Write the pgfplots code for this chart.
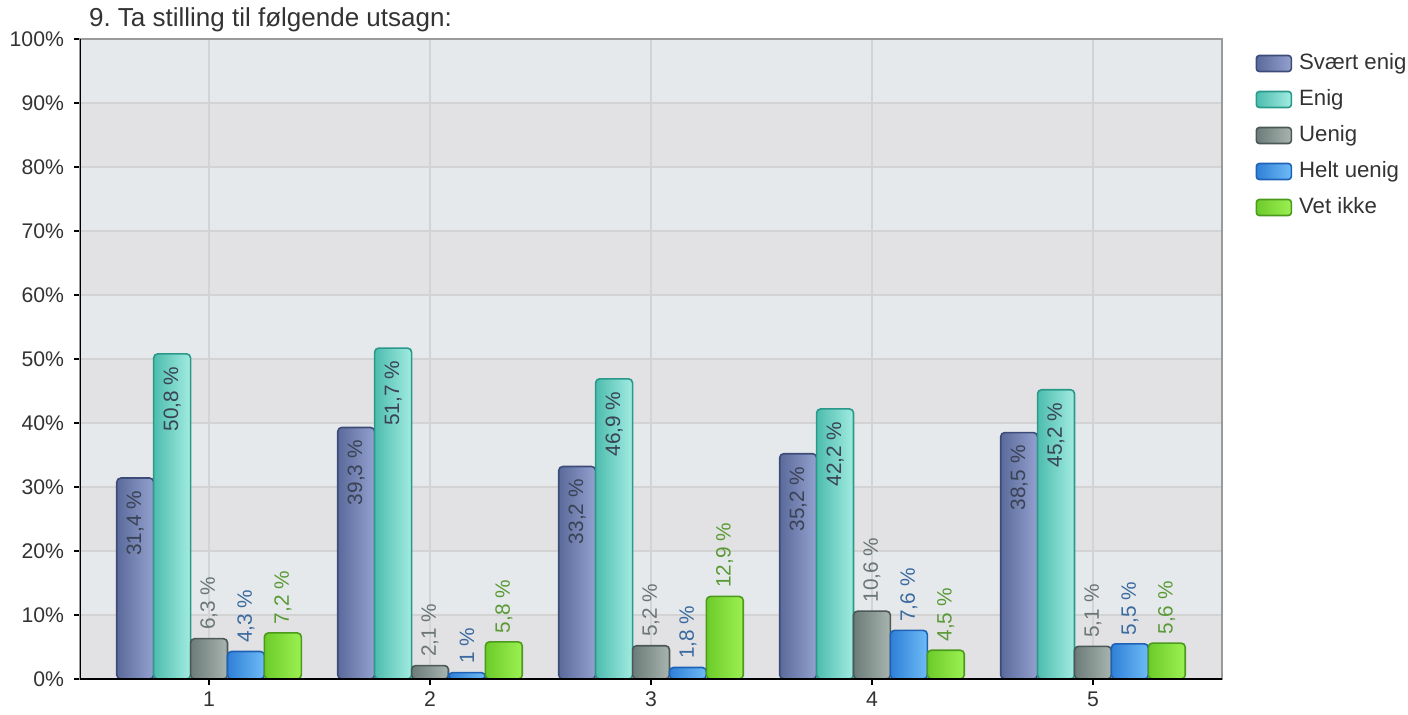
\documentclass[border=0pt]{standalone}
\usepackage{fontspec}
\setmainfont{Liberation Sans}
\usepackage{pgfplots}
\pgfplotsset{compat=1.18}

\definecolor{bandA}{HTML}{E6E9EC}
\definecolor{bandB}{HTML}{E2E2E4}
\definecolor{gridc}{HTML}{D3D3D3}
\definecolor{frame}{HTML}{9A9A9A}
\definecolor{txt}{HTML}{333333}
% bar colours: border, dark side, light side
\definecolor{seB}{HTML}{3D4B78}\definecolor{seL}{HTML}{5A6A9A}\definecolor{seR}{HTML}{93A1CF}
\definecolor{enB}{HTML}{2A998A}\definecolor{enL}{HTML}{4DBDAE}\definecolor{enR}{HTML}{A2EBE1}
\definecolor{ueB}{HTML}{4B5855}\definecolor{ueL}{HTML}{6C7C78}\definecolor{ueR}{HTML}{A8B4B0}
\definecolor{huB}{HTML}{1F62B5}\definecolor{huL}{HTML}{2F80D8}\definecolor{huR}{HTML}{6EBBF6}
\definecolor{viB}{HTML}{4C9A1C}\definecolor{viL}{HTML}{6CCB2A}\definecolor{viR}{HTML}{9CF052}
% label colours
\definecolor{inLab}{HTML}{3A4254}
\definecolor{ueLab}{HTML}{6A7674}
\definecolor{huLab}{HTML}{3A6A9E}
\definecolor{viLab}{HTML}{5A9A36}

\pgfplotsset{
  barbase/.style={line width=0.8pt, rounded corners=2pt},
  labin/.style={every node near coord/.append style={rotate=90, anchor=east, inner sep=6pt,
      text=inLab, font=\fontsize{10.4}{12}\selectfont}},
  labout/.style={every node near coord/.append style={rotate=90, anchor=west, inner sep=4pt,
      text=#1, font=\fontsize{10.4}{12}\selectfont}},
  se/.style={barbase, draw=seB, left color=seL, right color=seR, bar shift=-0.334, labin},
  en/.style={barbase, draw=enB, left color=enL, right color=enR, bar shift=-0.167, labin},
  ue/.style={barbase, draw=ueB, left color=ueL, right color=ueR, bar shift=0, labout=ueLab},
  hu/.style={barbase, draw=huB, left color=huL, right color=huR, bar shift=0.167, labout=huLab},
  vi/.style={barbase, draw=viB, left color=viL, right color=viR, bar shift=0.334, labout=viLab},
}

\begin{document}
\begin{tikzpicture}
\begin{axis}[
    set layers,
    scale only axis,
    width=571pt, height=320pt,
    xmin=0.416, xmax=5.584,
    ymin=0, ymax=100,
    xtick={1,2,3,4,5},
    ytick={0,10,...,100},
    yticklabel={\pgfmathprintnumber{\tick}\%},
    tick align=outside,
    major tick length=3pt,
    tick style={black, line width=0.6pt},
    xtick pos=bottom, ytick pos=left,
    xmajorgrids, ymajorgrids,
    grid style={gridc, line width=0.6pt},
    axis line style={frame, line width=0.8pt},
    ticklabel style={font=\fontsize{10.6}{12}\selectfont, text=txt},
    yticklabel style={xshift=-1.5pt},
    /pgf/number format/assume math mode=true,
    ybar,
    bar width=0.167,
    title={\frenchspacing 9. Ta stilling til følgende utsagn:},
    title style={at={(0,1)}, anchor=base west, xshift=1pt, yshift=0.2pt,
                 font=\fontsize{13}{15}\selectfont, text=txt},
    legend style={at={(1.029,0.985)}, anchor=north west, draw=none, fill=none,
                  font=\fontsize{11.1}{13}\selectfont, text=txt,
                  nodes={text height=8pt, text depth=2.5pt, inner xsep=3.5pt},
                  row sep=3.5pt, inner sep=0pt},
    legend cell align=left,
    every axis plot post/.append style={
        legend image code/.code={\draw[##1, rounded corners=1.5pt] (0pt,-4pt) rectangle (17.5pt,4pt);}},
    nodes near coords={\pgfmathprintnumber[use comma, fixed, precision=1]{\pgfplotspointmeta}~\%},
  ]
  \begin{pgfonlayer}{axis background}
    \fill[bandA] (rel axis cs:0,0) rectangle (rel axis cs:1,1);
    \pgfplotsinvokeforeach{0,20,40,60,80}{
      \fill[bandB] (axis cs:0.416,#1) rectangle (axis cs:5.584,#1+10);
    }
  \end{pgfonlayer}

  % question 1 (these carry the legend)
  \addplot[se] coordinates {(1,31.4)};
  \addplot[en] coordinates {(1,50.8)};
  \addplot[ue] coordinates {(1,6.3)};
  \addplot[hu] coordinates {(1,4.3)};
  \addplot[vi] coordinates {(1,7.2)};
  % question 2
  \addplot[se, forget plot] coordinates {(2,39.3)};
  \addplot[en, forget plot] coordinates {(2,51.7)};
  \addplot[ue, forget plot] coordinates {(2,2.1)};
  \addplot[hu, forget plot] coordinates {(2,1.0)};
  \addplot[vi, forget plot] coordinates {(2,5.8)};
  % question 3
  \addplot[se, forget plot] coordinates {(3,33.2)};
  \addplot[en, forget plot] coordinates {(3,46.9)};
  \addplot[ue, forget plot] coordinates {(3,5.2)};
  \addplot[hu, forget plot] coordinates {(3,1.8)};
  \addplot[vi, forget plot] coordinates {(3,12.9)};
  % question 4
  \addplot[se, forget plot] coordinates {(4,35.2)};
  \addplot[en, forget plot] coordinates {(4,42.2)};
  \addplot[ue, forget plot] coordinates {(4,10.6)};
  \addplot[hu, forget plot] coordinates {(4,7.6)};
  \addplot[vi, forget plot] coordinates {(4,4.5)};
  % question 5
  \addplot[se, forget plot] coordinates {(5,38.5)};
  \addplot[en, forget plot] coordinates {(5,45.2)};
  \addplot[ue, forget plot] coordinates {(5,5.1)};
  \addplot[hu, forget plot] coordinates {(5,5.5)};
  \addplot[vi, forget plot] coordinates {(5,5.6)};
  \legend{Svært enig, Enig, Uenig, Helt uenig, Vet ikke}

  \draw[black, line width=1pt] (rel axis cs:0,1) -- (rel axis cs:0,0) -- (rel axis cs:1,0);
\end{axis}
\pgfresetboundingbox
\path[use as bounding box] (-40pt,-17.5pt) rectangle (664pt,339.5pt);
\end{tikzpicture}
\end{document}
